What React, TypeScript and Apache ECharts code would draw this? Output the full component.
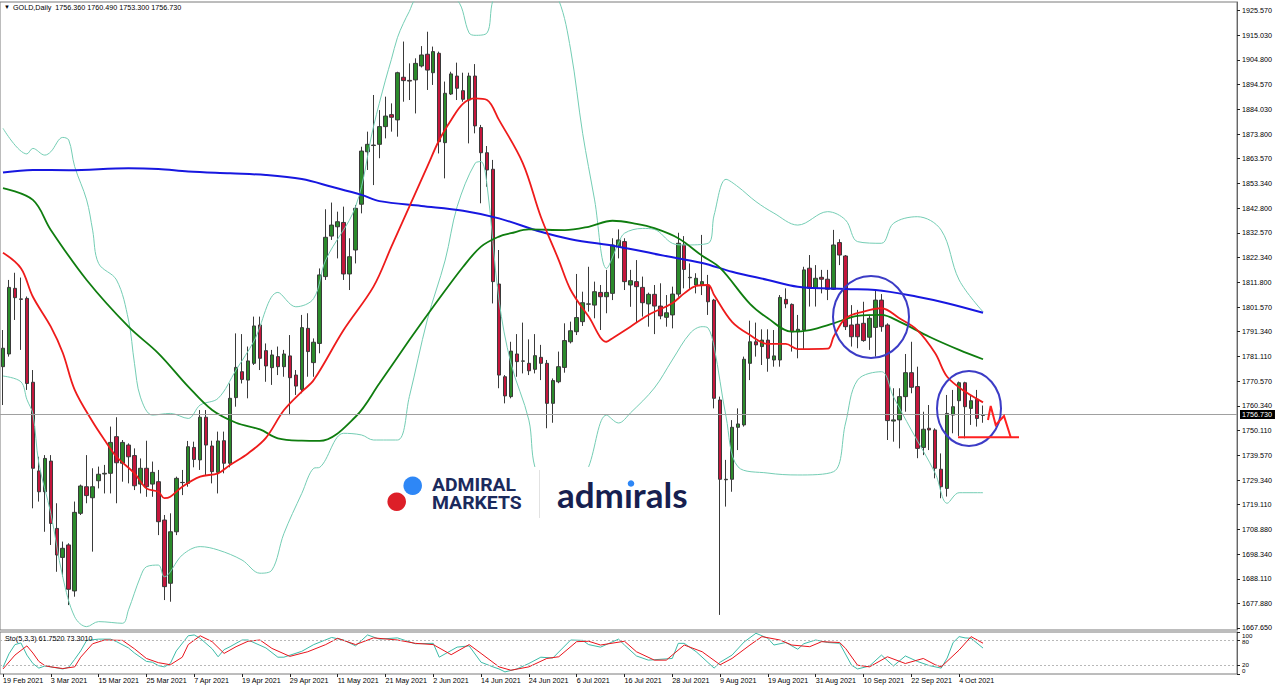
import React, { useEffect, useRef } from "react";
import * as echarts from "echarts";

// ---- categories: trading days shown (Good Friday 2 Apr excluded) ----
const tradingDays: [string, number[]][] = [
  ["Feb", [19, 22, 23, 24, 25, 26]],
  ["Mar", [1, 2, 3, 4, 5, 8, 9, 10, 11, 12, 15, 16, 17, 18, 19, 22, 23, 24, 25, 26, 29, 30, 31]],
  ["Apr", [1, 5, 6, 7, 8, 9, 12, 13, 14, 15, 16, 19, 20, 21, 22, 23, 26, 27, 28, 29, 30]],
  ["May", [3, 4, 5, 6, 7, 10, 11, 12, 13, 14, 17, 18, 19, 20, 21, 24, 25, 26, 27, 28, 31]],
  ["Jun", [1, 2, 3, 4, 7, 8, 9, 10, 11, 14, 15, 16, 17, 18, 21, 22, 23, 24, 25, 28, 29, 30]],
  ["Jul", [1, 2, 5, 6, 7, 8, 9, 12, 13, 14, 15, 16, 19, 20, 21, 22, 23, 26, 27, 28, 29, 30]],
  ["Aug", [2, 3, 4, 5, 6, 9, 10, 11, 12, 13, 16, 17, 18, 19, 20, 23, 24, 25, 26, 27, 30, 31]],
  ["Sep", [1, 2, 3, 6, 7, 8, 9, 10, 13, 14, 15, 16, 17, 20, 21, 22, 23, 24, 27, 28, 29, 30]],
  ["Oct", [1, 4, 5, 6, 7, 8]],
];
const dates: string[] = tradingDays.flatMap(([m, ds]) => ds.map((d) => `${d} ${m} 2021`));
const TOTAL_SLOTS = 207; // chart is shifted: empty space on the right
const LABEL_EVERY = 8;

// ---- OHLC ----
const opens = [
  1776.7, 1782.0, 1809.4, 1805.0, 1805.2, 1770.2, 1733.2, 1724.5, 1737.3, 1709.2,
  1697.1, 1702.3, 1683.1, 1715.5, 1726.6, 1722.0, 1729.1, 1731.9, 1732.2, 1747.5,
  1736.4, 1744.0, 1739.6, 1727.7, 1734.3, 1727.7, 1728.7, 1712.7, 1686.3, 1707.8,
  1728.3, 1728.0, 1743.0, 1737.8, 1755.6, 1743.6, 1732.6, 1745.8, 1736.4, 1763.8,
  1774.6, 1771.1, 1778.1, 1794.1, 1783.4, 1776.3, 1780.9, 1776.7, 1781.2, 1773.2,
  1767.2, 1792.7, 1778.4, 1786.4, 1814.3, 1831.2, 1835.1, 1836.9, 1815.4, 1825.4,
  1844.5, 1866.4, 1869.0, 1869.5, 1876.9, 1881.9, 1879.7, 1897.5, 1896.2, 1896.4,
  1902.2, 1907.1, 1899.4, 1907.5, 1870.2, 1890.5, 1898.0, 1891.9, 1888.0, 1898.0,
  1876.5, 1866.0, 1859.1, 1811.2, 1772.5, 1764.2, 1782.0, 1779.0, 1778.1, 1775.6,
  1780.6, 1778.1, 1761.4, 1770.4, 1776.4, 1787.1, 1791.3, 1795.5, 1802.8, 1802.4,
  1807.7, 1805.9, 1807.3, 1826.8, 1828.9, 1810.8, 1812.2, 1809.8, 1802.9, 1806.9,
  1802.0, 1797.3, 1798.3, 1807.0, 1827.5, 1813.8, 1810.8, 1810.8, 1810.8, 1804.5,
  1762.8, 1729.5, 1729.7, 1751.4, 1752.4, 1778.1, 1787.1, 1785.1, 1787.8, 1779.5,
  1779.5, 1804.8, 1802.7, 1791.3, 1792.0, 1817.8, 1809.4, 1814.0, 1813.2, 1809.0,
  1828.5, 1822.9, 1794.1, 1794.4, 1794.8, 1789.0, 1793.1, 1804.5, 1794.1, 1754.0,
  1754.5, 1764.2, 1774.2, 1768.4, 1743.0, 1751.0, 1750.3, 1733.9, 1725.9, 1756.5,
  1762.5, 1770.0, 1759.3, 1763.1, 1756.36,
];
const highs = [
  1792.0, 1812.9, 1815.9, 1813.9, 1806.0, 1775.3, 1739.1, 1739.8, 1739.8, 1719.7,
  1703.7, 1703.0, 1720.4, 1727.5, 1739.8, 1734.3, 1735.0, 1735.7, 1751.7, 1755.6,
  1746.1, 1744.7, 1742.6, 1738.4, 1745.8, 1737.1, 1733.6, 1714.8, 1715.5, 1730.8,
  1733.6, 1745.7, 1745.4, 1758.6, 1758.6, 1745.8, 1749.6, 1749.6, 1769.7, 1790.6,
  1790.3, 1785.1, 1797.6, 1797.6, 1786.4, 1783.7, 1785.1, 1783.7, 1789.9, 1775.3,
  1798.3, 1799.0, 1788.5, 1817.7, 1842.4, 1845.2, 1841.4, 1843.5, 1830.3, 1844.2,
  1868.5, 1874.8, 1890.1, 1883.8, 1889.4, 1886.6, 1899.8, 1912.4, 1903.3, 1905.4,
  1910.5, 1916.5, 1910.3, 1908.2, 1895.7, 1899.8, 1903.6, 1899.4, 1899.4, 1903.0,
  1877.6, 1868.8, 1863.0, 1825.4, 1773.2, 1787.1, 1790.3, 1795.1, 1788.1, 1790.3,
  1785.8, 1779.5, 1771.8, 1783.0, 1794.8, 1795.5, 1815.4, 1808.0, 1818.4, 1812.2,
  1810.8, 1817.1, 1830.3, 1834.0, 1830.3, 1817.1, 1821.2, 1814.3, 1807.6, 1810.8,
  1811.5, 1806.6, 1810.1, 1832.6, 1831.2, 1819.8, 1815.7, 1831.7, 1815.0, 1805.0,
  1764.2, 1737.8, 1754.4, 1759.3, 1780.9, 1795.9, 1795.1, 1792.3, 1792.3, 1792.0,
  1806.6, 1809.4, 1803.1, 1798.3, 1818.4, 1823.3, 1819.1, 1817.1, 1817.1, 1833.8,
  1829.9, 1823.3, 1802.4, 1800.4, 1803.8, 1798.3, 1808.7, 1807.0, 1794.8, 1767.7,
  1767.7, 1782.0, 1787.1, 1776.7, 1757.9, 1760.7, 1751.0, 1740.5, 1764.9, 1767.0,
  1770.5, 1770.4, 1764.9, 1767.0, 1760.49,
];
const lows = [
  1760.7, 1780.9, 1796.2, 1783.7, 1767.0, 1717.6, 1720.4, 1707.8, 1702.3, 1691.1,
  1689.1, 1677.2, 1680.7, 1714.8, 1719.7, 1699.5, 1725.9, 1723.8, 1723.8, 1719.7,
  1728.7, 1728.0, 1725.2, 1723.8, 1722.4, 1722.4, 1706.4, 1679.3, 1678.6, 1706.4,
  1723.1, 1726.6, 1734.7, 1733.6, 1731.5, 1728.0, 1723.8, 1732.2, 1734.7, 1760.0,
  1769.7, 1763.5, 1777.4, 1775.3, 1770.4, 1769.1, 1773.2, 1772.5, 1756.5, 1764.9,
  1765.6, 1772.5, 1772.5, 1782.3, 1812.9, 1829.6, 1821.9, 1812.9, 1808.7, 1819.8,
  1840.7, 1858.8, 1852.5, 1863.7, 1872.0, 1874.8, 1872.7, 1887.3, 1888.0, 1882.4,
  1901.6, 1892.2, 1894.3, 1865.7, 1855.3, 1890.1, 1888.0, 1887.3, 1869.9, 1874.1,
  1844.9, 1851.8, 1803.1, 1767.7, 1761.4, 1763.5, 1772.5, 1773.9, 1773.2, 1773.9,
  1771.1, 1751.0, 1753.3, 1769.8, 1774.2, 1786.4, 1789.9, 1793.7, 1799.7, 1796.9,
  1792.0, 1799.0, 1804.5, 1821.9, 1808.7, 1801.7, 1795.1, 1797.6, 1793.4, 1790.3,
  1796.5, 1793.4, 1792.7, 1805.9, 1809.4, 1808.7, 1807.3, 1806.6, 1798.3, 1759.3,
  1673.1, 1718.3, 1724.5, 1741.9, 1751.7, 1771.1, 1780.9, 1777.4, 1774.6, 1776.7,
  1776.7, 1801.1, 1783.0, 1780.2, 1783.9, 1801.8, 1801.8, 1807.3, 1804.5, 1808.7,
  1819.1, 1792.0, 1785.1, 1784.4, 1787.1, 1783.7, 1780.9, 1791.3, 1746.1, 1745.4,
  1742.6, 1757.9, 1765.6, 1738.5, 1739.8, 1741.9, 1730.1, 1721.8, 1722.5, 1748.9,
  1747.8, 1746.8, 1752.4, 1751.7, 1753.3,
];
const closes = [
  1784.4, 1809.8, 1805.5, 1804.8, 1769.7, 1734.3, 1724.5, 1738.4, 1711.3, 1698.1,
  1700.9, 1683.8, 1715.9, 1726.9, 1722.9, 1726.6, 1731.8, 1732.2, 1745.1, 1736.6,
  1745.1, 1739.1, 1727.0, 1734.3, 1726.6, 1732.6, 1712.0, 1684.9, 1707.8, 1730.1,
  1728.4, 1743.3, 1738.0, 1755.6, 1744.0, 1732.9, 1745.7, 1736.4, 1763.5, 1776.4,
  1771.4, 1779.1, 1793.7, 1780.2, 1777.0, 1781.6, 1776.7, 1782.0, 1772.1, 1768.6,
  1793.0, 1783.0, 1786.9, 1815.0, 1830.7, 1835.8, 1837.2, 1815.4, 1822.6, 1842.8,
  1866.7, 1869.5, 1869.2, 1876.9, 1881.3, 1880.8, 1899.4, 1896.1, 1895.9, 1903.3,
  1906.8, 1900.5, 1908.2, 1870.6, 1890.8, 1898.9, 1892.9, 1888.3, 1898.0, 1877.2,
  1866.0, 1858.8, 1812.2, 1773.2, 1764.5, 1783.2, 1778.8, 1779.1, 1775.0, 1781.3,
  1778.1, 1761.4, 1770.9, 1776.7, 1787.6, 1791.7, 1797.2, 1803.4, 1802.9, 1808.0,
  1805.9, 1807.7, 1827.5, 1829.6, 1812.2, 1812.6, 1810.1, 1803.4, 1806.9, 1802.0,
  1797.9, 1799.2, 1807.0, 1828.2, 1817.3, 1814.0, 1813.6, 1812.2, 1803.8, 1763.5,
  1729.7, 1729.7, 1751.4, 1752.8, 1779.8, 1787.1, 1785.8, 1787.8, 1780.2, 1781.2,
  1805.6, 1802.9, 1791.3, 1792.3, 1817.1, 1809.4, 1813.6, 1813.2, 1809.0, 1827.5,
  1823.3, 1793.4, 1789.2, 1789.2, 1787.6, 1796.9, 1804.5, 1793.4, 1754.2, 1754.5,
  1764.2, 1774.2, 1768.1, 1742.6, 1750.6, 1750.3, 1734.3, 1726.6, 1757.2, 1760.0,
  1770.0, 1760.0, 1762.5, 1755.1, 1756.73,
];

// ---- indicator lines: [bar index, value] ----
const ma200: [number, number][] = [
  [0, 1857.7], [5, 1858.8], [11, 1858.7], [21, 1859.5], [26, 1859.2], [31, 1858.2], [38, 1857.4],
  [44, 1856.7], [50, 1855.0], [55, 1851.8], [60, 1848.4], [63, 1845.8], [70, 1843.8], [77, 1841.8],
  [83, 1838.6], [90, 1833.0], [95, 1829.9], [103, 1826.8], [110, 1823.3], [117, 1820.0], [122, 1816.3],
  [128, 1812.9], [133, 1810.1], [141, 1809.1], [146, 1808.7], [153, 1805.9], [158, 1803.2], [164, 1799.2],
];
const ma50: [number, number][] = [
  [0, 1851.2], [5, 1846.3], [8, 1833.8], [14, 1812.9], [21, 1793.4], [26, 1782.3], [31, 1768.4],
  [35, 1758.6], [39, 1753.3], [43, 1750.5], [46, 1746.8], [50, 1745.8], [53, 1745.7], [59, 1755.8],
  [63, 1769.8], [68, 1787.8], [72, 1801.7], [77, 1818.4], [80, 1826.8], [83, 1831.0], [85, 1832.4],
  [88, 1834.0], [94, 1833.7], [98, 1835.1], [102, 1837.6], [106, 1836.3], [109, 1834.5], [113, 1830.3],
  [117, 1823.0], [120, 1817.9], [125, 1802.9], [128, 1796.9], [132, 1791.3], [135, 1792.0], [139, 1794.8],
  [143, 1797.9], [147, 1798.3], [150, 1795.5], [155, 1789.2], [160, 1783.7], [164, 1779.8],
];
const ma21: [number, number][] = [
  [0, 1824.3], [3, 1817.8], [5, 1805.9], [8, 1793.4], [10, 1782.5], [12, 1767.0], [15, 1753.7],
  [17, 1746.1], [19, 1739.1], [22, 1732.2], [24, 1725.9], [26, 1724.5], [27, 1721.8], [28, 1722.4],
  [30, 1726.6], [33, 1730.8], [36, 1732.2], [38, 1735.7], [41, 1740.5], [44, 1747.0], [47, 1758.5],
  [50, 1766.3], [52, 1771.1], [57, 1792.0], [62, 1810.1], [65, 1826.8], [68, 1843.5], [71, 1860.2],
  [73, 1871.3], [75, 1879.7], [77, 1886.5], [79, 1888.7], [81, 1888.0], [83, 1879.7], [87, 1861.6],
  [90, 1839.3], [93, 1821.2], [95, 1808.7], [98, 1797.6], [101, 1787.1], [102, 1788.6], [105, 1793.4],
  [108, 1798.3], [112, 1803.2], [114, 1807.3], [116, 1810.4], [118, 1810.8], [119, 1806.6], [122, 1795.4],
  [125, 1789.9], [128, 1786.2], [131, 1786.2], [133, 1784.0], [138, 1784.2], [139, 1789.2], [141, 1796.9],
  [144, 1799.7], [147, 1801.1], [150, 1796.9], [153, 1792.0], [156, 1782.3], [158, 1772.5], [161, 1766.3],
  [164, 1761.8],
];
const bbUpper: [number, number][] = [
  [0, 1876.2], [4, 1865.5], [5, 1867.8], [7, 1865.0], [8, 1866.4], [10, 1872.4], [11, 1871.3],
  [12, 1860.2], [14, 1846.3], [15, 1833.7], [16, 1819.8], [19, 1812.9], [21, 1796.2], [22, 1778.1],
  [23, 1764.0], [25, 1756.5], [28, 1757.2], [31, 1755.1], [33, 1760.7], [36, 1763.5], [39, 1775.3],
  [42, 1787.4], [46, 1807.7], [49, 1801.7], [52, 1805.2], [54, 1821.2], [59, 1843.5], [62, 1876.9],
  [64, 1896.3], [65, 1905.0], [66, 1914.0], [67, 1920.0], [68, 1925.0], [69, 1929.7], [72, 1932.0],
  [76, 1929.7], [78, 1916.0], [79, 1915.0], [81, 1916.0], [82, 1929.7], [87, 1960.0], [93, 1929.7],
  [95, 1908.9], [97, 1874.1], [99, 1846.3], [101, 1817.7], [103, 1828.2], [104, 1832.4], [107, 1834.4],
  [109, 1834.0], [112, 1828.2], [114, 1827.5], [118, 1828.2], [119, 1840.0], [121, 1854.9], [123, 1851.8],
  [126, 1845.6], [129, 1840.8], [133, 1835.8], [138, 1841.4], [141, 1837.9], [143, 1828.9], [147, 1828.2],
  [149, 1836.5], [153, 1839.3], [157, 1833.7], [160, 1812.9], [164, 1799.6],
];
const bbLower: [number, number][] = [
  [0, 1772.8], [3, 1770.4], [4, 1763.0], [5, 1757.0], [6, 1736.4], [8, 1715.5], [10, 1689.0],
  [12, 1672.3], [14, 1668.2], [16, 1670.3], [20, 1669.6], [21, 1675.2], [23, 1689.0], [24, 1693.2],
  [26, 1693.9], [27, 1689.0], [30, 1698.1], [33, 1701.6], [36, 1700.2], [40, 1696.0], [43, 1690.5],
  [45, 1691.8], [47, 1707.0], [50, 1723.8], [52, 1734.3], [53, 1734.7], [57, 1748.9], [60, 1748.2],
  [62, 1746.1], [66, 1746.1], [68, 1764.2], [71, 1796.2], [74, 1821.2], [76, 1843.5], [79, 1861.6],
  [80, 1862.3], [81, 1852.5], [83, 1804.5], [85, 1778.1], [88, 1754.4], [89, 1734.9], [92, 1718.0],
  [95, 1719.0], [98, 1734.9], [101, 1756.5], [103, 1753.2], [105, 1757.4], [109, 1767.8], [112, 1779.5],
  [115, 1790.7], [117, 1793.4], [118, 1792.8], [119, 1785.0], [121, 1755.8], [123, 1734.9], [128, 1732.3],
  [133, 1731.5], [139, 1732.9], [141, 1753.2], [143, 1771.1], [147, 1774.6], [149, 1764.2], [152, 1750.3],
  [156, 1732.2], [158, 1719.7], [160, 1724.1], [164, 1724.1],
];
const stochK: [number, number][] = [
  [0, 16], [1, 48], [2, 70], [3, 74], [4, 45], [5, 25], [6, 14], [7, 19], [8, 17], [10, 12], [11, 16],
  [12, 35], [13, 55], [14, 80], [16, 83], [18, 83], [19, 77], [21, 62], [22, 50], [24, 30], [25, 28],
  [26, 20], [27, 17], [28, 25], [29, 55], [31, 91], [32, 93], [33, 85], [35, 60], [36, 41], [37, 58],
  [38, 65], [40, 81], [41, 81], [44, 62], [46, 40], [47, 40], [50, 54], [52, 70], [55, 87], [57, 81],
  [59, 67], [61, 93], [63, 83], [66, 86], [69, 72], [72, 73], [73, 40], [76, 64], [78, 67], [80, 28],
  [82, 17], [83, 12], [84, 5], [86, 12], [88, 25], [90, 40], [92, 38], [95, 81], [97, 80], [98, 70],
  [100, 64], [103, 83], [104, 69], [106, 43], [108, 33], [112, 37], [113, 73], [114, 73], [116, 53],
  [119, 14], [120, 28], [122, 45], [124, 76], [126, 97], [128, 85], [129, 69], [131, 75], [133, 59],
  [134, 72], [136, 81], [138, 75], [140, 73], [142, 21], [143, 12], [145, 19], [147, 45], [149, 19],
  [151, 43], [153, 30], [155, 20], [157, 14], [158, 38], [159, 75], [160, 89], [161, 86], [162, 85],
  [164, 61.75],
];
const stochD: [number, number][] = [
  [0, 12], [2, 45], [4, 67], [5, 50], [6, 30], [7, 20], [8, 17], [10, 13], [12, 17], [13, 40], [15, 72],
  [17, 81], [20, 80], [22, 60], [24, 37], [26, 27], [28, 22], [30, 40], [31, 70], [33, 91], [35, 77],
  [37, 49], [39, 65], [41, 78], [43, 81], [45, 61], [48, 42], [51, 53], [54, 70], [56, 85], [59, 70],
  [62, 86], [66, 81], [69, 73], [72, 70], [75, 46], [78, 70], [80, 49], [83, 17], [85, 9], [88, 17],
  [91, 37], [93, 41], [96, 77], [98, 78], [100, 69], [104, 78], [106, 53], [109, 33], [111, 33],
  [114, 69], [117, 53], [120, 22], [122, 37], [125, 69], [127, 89], [130, 81], [132, 69], [135, 65],
  [137, 77], [140, 75], [141, 61], [143, 21], [145, 17], [148, 41], [151, 25], [154, 37], [156, 22],
  [157, 17], [160, 57], [162, 89], [164, 73.3],
];

// ---- axis tick labels ----
const priceTicks = [
  1925.57, 1915.03, 1904.8, 1894.57, 1884.03, 1873.8, 1863.57, 1853.34, 1842.8, 1832.57, 1822.34,
  1811.8, 1801.57, 1791.34, 1781.11, 1770.57, 1760.34, 1750.11, 1739.57, 1729.34, 1719.11, 1708.88,
  1698.34, 1688.11, 1677.88, 1667.65,
];
const stochTicks = [0, 20, 80, 100];
const stochLevels = [80, 20];
const lastPrice = 1756.73;
const headerText = "GOLD,Daily  1756.360 1760.490 1753.300 1756.730";
const stochText = "Sto(5,3,3) 61.7520 73.3010";

const FONT = "'Liberation Sans', Arial, sans-serif";

function buildOption() {
  const cats = dates.concat(
    Array.from({ length: TOTAL_SLOTS - dates.length }, (_, k) => `pad${k}`)
  );
  const candles = opens.map((o, i) => [o, closes[i], lows[i], highs[i]]);
  const showIdx = (i: number) => i % LABEL_EVERY === 0 && i < dates.length;
  const lineBase = {
    type: "line",
    xAxisIndex: 0,
    yAxisIndex: 0,
    showSymbol: false,
    symbol: "none",
    smooth: 0.35,
    silent: true,
    clip: true,
    z: 4,
  };
  const txt = (x: number, y: number, text: string, font: string, fill = "#000", extra: any = {}, el: any = {}) => ({
    type: "text",
    x,
    y,
    z: 110,
    silent: true,
    ...el,
    style: { text, font, fill, textAlign: "left", textVerticalAlign: "middle", ...extra },
  });

  return {
    animation: false,
    backgroundColor: "#ffffff",
    textStyle: { fontFamily: FONT },
    grid: [
      { left: 0, top: 2, width: 1237, height: 628, show: true, borderColor: "#7a7a7a", borderWidth: 1 },
      { left: 0, top: 632, width: 1237, height: 42, show: true, borderColor: "#7a7a7a", borderWidth: 1 },
    ],
    xAxis: [
      { type: "category", gridIndex: 0, data: cats, boundaryGap: true, show: false },
      {
        type: "category",
        gridIndex: 1,
        data: cats,
        boundaryGap: true,
        axisLine: { show: false },
        splitLine: { show: false },
        axisTick: {
          show: true,
          alignWithLabel: true,
          interval: (i: number) => showIdx(i),
          length: 3,
          lineStyle: { color: "#222" },
        },
        axisLabel: {
          interval: (i: number) => showIdx(i),
          align: "left",
          margin: 3,
          fontSize: 7.2,
          fontFamily: FONT,
          color: "#000",
          formatter: (v: string, i: number) => (i < dates.length ? v : ""),
        },
      },
    ],
    yAxis: [
      {
        type: "value",
        gridIndex: 0,
        position: "right",
        min: 1666.8,
        max: 1928.91,
        splitLine: { show: false },
        axisLine: { show: true, lineStyle: { color: "#666" } },
        axisTick: { show: true, length: 3, customValues: priceTicks, lineStyle: { color: "#222" } },
        axisLabel: {
          customValues: priceTicks,
          formatter: (v: number) => v.toFixed(3),
          fontSize: 7.2,
          margin: 5,
          color: "#000",
          fontFamily: FONT,
        },
      },
      {
        type: "value",
        gridIndex: 1,
        position: "right",
        min: 0,
        max: 100,
        splitLine: { show: false },
        axisLine: { show: true, lineStyle: { color: "#666" } },
        axisTick: { show: true, length: 3, customValues: stochTicks, lineStyle: { color: "#222" } },
        axisLabel: {
          customValues: stochTicks,
          margin: 5,
          color: "#000",
          fontFamily: FONT,
          fontSize: 6.2,
          formatter: (v: number) =>
            v === 100 ? "{t|100}" : v === 80 ? "{u|80}" : v === 20 ? "{l|20}" : "{b|0}",
          rich: {
            t: { fontSize: 6.2, padding: [7, 0, 0, 0] },
            u: { fontSize: 6.2, padding: [3, 0, 0, 0] },
            l: { fontSize: 6.2, padding: [0, 0, 2, 0] },
            b: { fontSize: 6.2, padding: [0, 0, 7, 0] },
          },
        },
      },
    ],
    series: [
      {
        type: "candlestick",
        xAxisIndex: 0,
        yAxisIndex: 0,
        data: candles,
        barWidth: 4,
        z: 3,
        itemStyle: {
          color: "#2b8a2b",
          color0: "#c4163c",
          borderColor: "#3a3a3a",
          borderColor0: "#3a3a3a",
          borderColorDoji: "#3a3a3a",
          borderWidth: 1,
        },
        markLine: {
          silent: true,
          symbol: ["none", "none"],
          animation: false,
          lineStyle: { color: "#a0a0a0", width: 1, type: "solid" },
          label: {
            show: true,
            position: "end",
            distance: 3,
            formatter: lastPrice.toFixed(3),
            color: "#fff",
            backgroundColor: "#000",
            padding: [1, 3, 1, 2],
            fontSize: 7.2,
            fontFamily: FONT,
          },
          data: [{ yAxis: lastPrice }],
        },
      },
      { ...lineBase, name: "bbUpper", data: bbUpper, lineStyle: { color: "#74cdb4", width: 1 } },
      { ...lineBase, name: "bbLower", data: bbLower, lineStyle: { color: "#74cdb4", width: 1 } },
      { ...lineBase, name: "ma200", data: ma200, lineStyle: { color: "#1717e0", width: 2 } },
      { ...lineBase, name: "ma50", data: ma50, lineStyle: { color: "#0f7d0f", width: 1.8 } },
      { ...lineBase, name: "ma21", data: ma21, lineStyle: { color: "#ee1b1b", width: 1.8 } },
      {
        type: "line",
        xAxisIndex: 1,
        yAxisIndex: 1,
        data: stochK,
        showSymbol: false,
        symbol: "none",
        silent: true,
        lineStyle: { color: "#3dbba8", width: 1 },
        markLine: {
          silent: true,
          symbol: ["none", "none"],
          label: { show: false },
          lineStyle: { color: "#b8b8b8", width: 1, type: [2, 2] },
          data: stochLevels.map((v) => ({ yAxis: v })),
        },
      },
      {
        type: "line",
        xAxisIndex: 1,
        yAxisIndex: 1,
        data: stochD,
        showSymbol: false,
        symbol: "none",
        silent: true,
        lineStyle: { color: "#e8141c", width: 1 },
      },
    ],
    graphic: [
      txt(4, 7, "\u25BC", `6px ${FONT}`),
      txt(13, 7, headerText, `7.2px ${FONT}`),
      txt(5, 638, stochText, `7.2px ${FONT}`),
      // logo
      { type: "rect", z: 100, silent: true, shape: { x: 378, y: 467, width: 322, height: 55 }, style: { fill: "#ffffff" } },
      { type: "circle", z: 101, silent: true, shape: { cx: 412.7, cy: 485.7, r: 9.3 }, style: { fill: "#2e87f6" } },
      { type: "circle", z: 101, silent: true, shape: { cx: 396.7, cy: 501.7, r: 9.3 }, style: { fill: "#dd1f28" } },
      txt(432, 485.3, "ADMIRAL", "bold 17.6px Roboto", "#1b2a5c", {}, { scaleX: 1.1 }),
      txt(432, 503.0, "MARKETS", "bold 17.6px Roboto", "#1b2a5c", {}, { scaleX: 1.1 }),
      { type: "line", z: 101, silent: true, shape: { x1: 539.5, y1: 470, x2: 539.5, y2: 518 }, style: { stroke: "#e2e2e2", lineWidth: 1 } },
      txt(557, 493.5, "adm\u0131rals", "bold 35px Lato", "#171f50"),
      { type: "circle", z: 102, silent: true, shape: { cx: 631, cy: 483.5, r: 3.3 }, style: { fill: "#2e87f6" } },
      // annotations
      { type: "ellipse", z: 105, silent: true, shape: { cx: 871, cy: 317, rx: 38, ry: 41 }, style: { fill: "none", stroke: "#3c3cc6", lineWidth: 2 } },
      { type: "ellipse", z: 105, silent: true, shape: { cx: 969, cy: 408.5, rx: 32, ry: 37.5 }, style: { fill: "none", stroke: "#3c3cc6", lineWidth: 2 } },
      { type: "line", z: 105, silent: true, shape: { x1: 958, y1: 437.3, x2: 1019, y2: 437.3 }, style: { stroke: "#ff2020", lineWidth: 2 } },
      {
        type: "polyline",
        z: 105,
        silent: true,
        shape: { points: [[988, 420], [990.7, 406], [995.7, 425], [1004, 416], [1010.7, 437.3]] },
        style: { fill: "none", stroke: "#ff2020", lineWidth: 2 },
      },
    ],
  };
}

export default function App() {
  const ref = useRef<HTMLDivElement>(null);
  useEffect(() => {
    if (!ref.current) return;
    const chart = echarts.init(ref.current, null, { renderer: "svg" });
    chart.setOption(buildOption() as any);
    return () => chart.dispose();
  }, []);
  return (
    <div
      ref={ref}
      style={{ position: "fixed", left: 0, top: 0, width: 1280, height: 690, background: "#fff" }}
    />
  );
}
